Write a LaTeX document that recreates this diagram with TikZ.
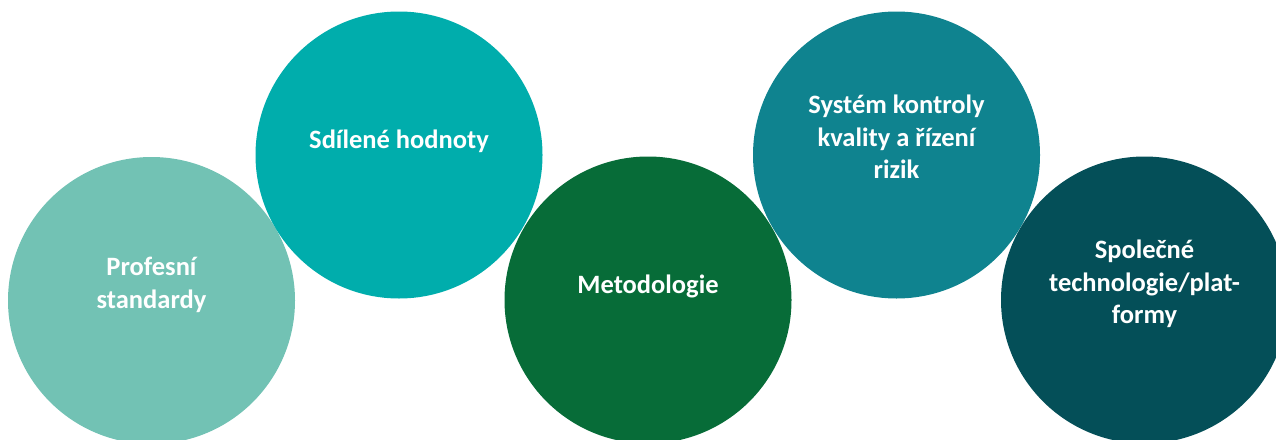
\documentclass[tikz,border=0pt]{standalone}
\usepackage{fontspec}
\setmainfont{Carlito}
\definecolor{standardycolor}{HTML}{72C2B4}
\definecolor{hodnotycolor}{HTML}{00ADAC}
\definecolor{metodologiecolor}{HTML}{076C38}
\definecolor{kontrolacolor}{HTML}{0F838F}
\definecolor{technologiecolor}{HTML}{044F58}
\newcommand{\lowerstrut}{\rule[-1.1\baselineskip]{0pt}{0pt}}
\tikzset{bubble/.style={circle, minimum size=287pt, inner sep=0pt,
  text=white, align=center, font=\fontsize{26.5}{32.5}\selectfont\bfseries,
  execute at begin node=\strut, execute at end node=\lowerstrut}}

\begin{document}
\begin{tikzpicture}[x=1pt, y=-1pt]
\clip (0,0) rectangle (1276,439);
\node[bubble, fill=standardycolor] (standardy) at (151.5,300.5) {Profesní\\standardy};
\node[bubble, fill=hodnotycolor] (hodnoty) at (399,155) {Sdílené hodnoty};
\node[bubble, fill=metodologiecolor] (metodologie) at (648,300) {Metodologie};
\node[bubble, fill=kontrolacolor] (kontrola) at (896.5,155) {Systém kontroly\\kvality a řízení\\rizik};
\node[bubble, fill=technologiecolor] (technologie) at (1144.5,300) {Společné\\technologie/plat-\\formy};
\end{tikzpicture}
\end{document}
